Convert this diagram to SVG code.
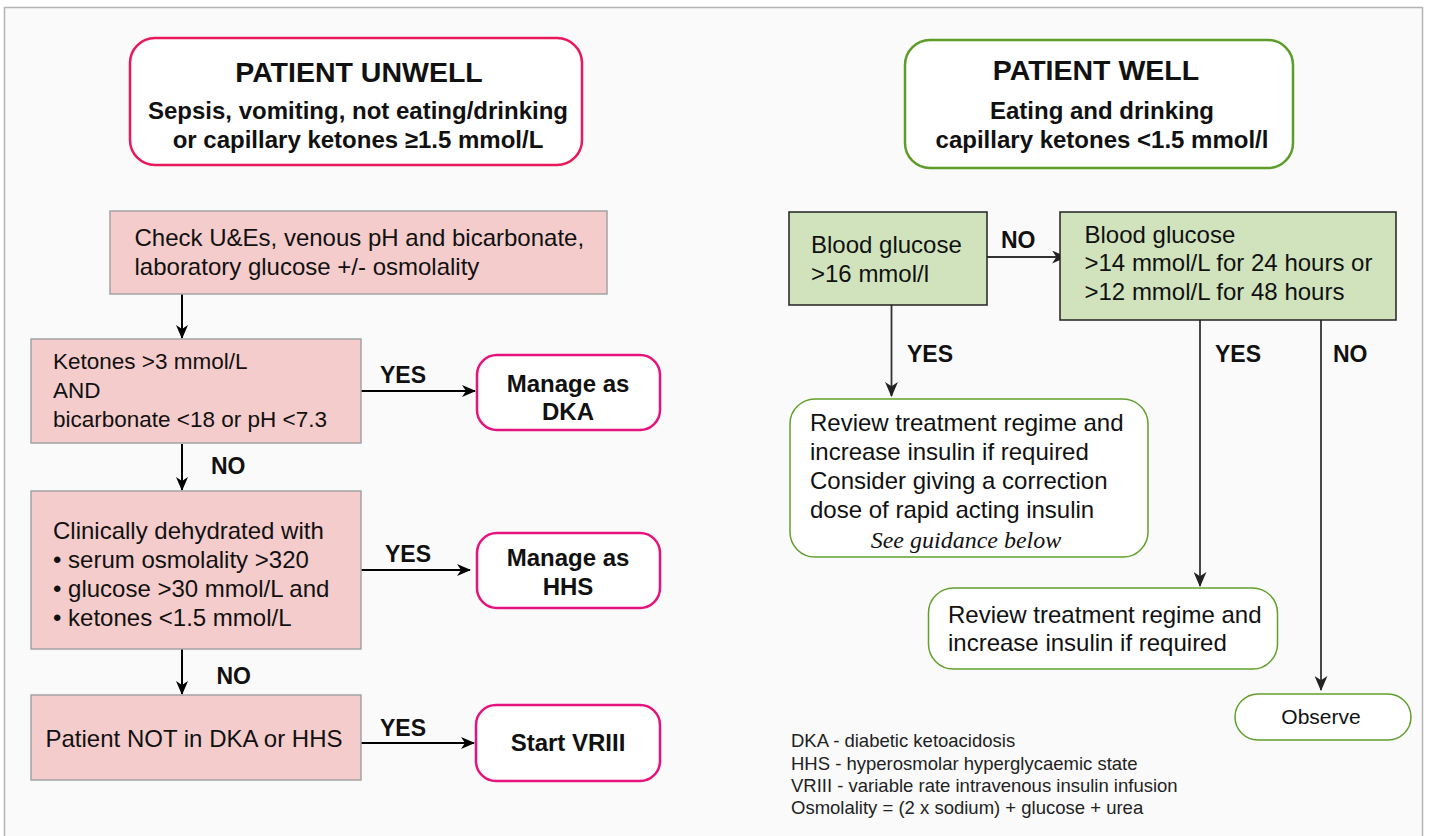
<svg xmlns="http://www.w3.org/2000/svg" width="1429" height="836" viewBox="0 0 1429 836">
<defs>
<style>
text{font-family:"Liberation Sans",Arial,sans-serif;fill:#111}
.b{font-weight:bold}
.t{font-size:28.5px;font-weight:bold;text-anchor:middle}
.s{font-size:24px;font-weight:bold;text-anchor:middle}
.n{font-size:24px}
.k{font-size:22.5px}
.lbl{font-size:23px;font-weight:bold}
.pink{fill:#f4cccc;stroke:#a3a3a3;stroke-width:1.5}
.green{fill:#d0e3bd;stroke:#222;stroke-width:1.5}
.rp{fill:#fff;stroke:#e5137e;stroke-width:2.5}
.rg{fill:#fff;stroke:#62a02c;stroke-width:1.5}
.ln{stroke:#000;stroke-width:2;fill:none}
.lr{stroke:#333;stroke-width:1.8;fill:none}
.leg{font-size:18.5px;fill:#222}
</style>
<marker id="ah" viewBox="0 0 14 12" refX="13" refY="6" markerWidth="14" markerHeight="12" markerUnits="userSpaceOnUse" orient="auto">
<path d="M0,0 L14,6 L0,12 L4,6 z" fill="#000"/>
</marker>
<marker id="ah2" viewBox="0 0 14 12" refX="13" refY="6" markerWidth="15" markerHeight="13" markerUnits="userSpaceOnUse" orient="auto">
<path d="M0,0 L14,6 L0,12 L4,6 z" fill="#222"/>
</marker>
</defs>
<rect x="0" y="0" width="1429" height="836" fill="#ffffff"/>
<rect x="4.5" y="7.5" width="1418" height="840" fill="#fafafa" stroke="#b4b4b4" stroke-width="1.5"/>

<g id="connectors">
<line class="ln" x1="182" y1="294" x2="182" y2="338" marker-end="url(#ah)"/>
<line class="ln" x1="361" y1="391" x2="475" y2="391" marker-end="url(#ah)"/>
<line class="ln" x1="182" y1="444" x2="182" y2="490" marker-end="url(#ah)"/>
<line class="ln" x1="361" y1="570" x2="470" y2="570" marker-end="url(#ah)"/>
<line class="ln" x1="182" y1="649" x2="182" y2="694" marker-end="url(#ah)"/>
<line class="ln" x1="361" y1="743" x2="474" y2="743" marker-end="url(#ah)"/>
<line class="lr" x1="987" y1="257" x2="1066" y2="257" marker-end="url(#ah2)"/>
<line class="lr" x1="891.5" y1="305" x2="891.5" y2="396" marker-end="url(#ah2)"/>
<line class="lr" x1="1200" y1="316" x2="1200" y2="586" marker-end="url(#ah2)"/>
<line class="lr" x1="1321" y1="320" x2="1321" y2="690" marker-end="url(#ah2)"/>
<text class="lbl" x="380" y="383">YES</text>
<text class="lbl" x="211" y="473.5">NO</text>
<text class="lbl" x="385" y="562">YES</text>
<text class="lbl" x="216.5" y="684">NO</text>
<text class="lbl" x="380" y="736">YES</text>
<text class="lbl" x="1001" y="248">NO</text>
<text class="lbl" x="907" y="362">YES</text>
<text class="lbl" x="1215" y="362">YES</text>
<text class="lbl" x="1333" y="362">NO</text>
</g>

<g id="unwell">
<rect x="130" y="38" width="452" height="127" rx="25" fill="#fff" stroke="#e8185a" stroke-width="2.5"/>
<text class="t" x="359" y="82">PATIENT UNWELL</text>
<text class="s" x="358" y="119">Sepsis, vomiting, not eating/drinking</text>
<text class="s" x="358" y="148">or capillary ketones ≥1.5 mmol/L</text>
</g>

<g id="check">
<rect class="pink" x="110" y="211" width="497" height="83"/>
<text class="n" x="134.5" y="246">Check U&amp;Es, venous pH and bicarbonate,</text>
<text class="n" x="134.5" y="275">laboratory glucose +/- osmolality</text>
</g>

<g id="ketones">
<rect class="pink" x="31" y="339" width="330" height="104"/>
<text class="k" x="53" y="369">Ketones &gt;3 mmol/L</text>
<text class="k" x="53" y="398">AND</text>
<text class="k" x="53" y="427">bicarbonate &lt;18 or pH &lt;7.3</text>
</g>

<g id="dka">
<rect class="rp" x="477" y="355" width="183" height="75" rx="20"/>
<text class="s" x="568" y="391.5">Manage as</text>
<text class="s" x="568" y="419.5">DKA</text>
</g>

<g id="dehydrated">
<rect class="pink" x="31" y="491" width="330" height="158"/>
<text class="n" x="53" y="539">Clinically dehydrated with</text>
<text class="n" x="53" y="568">• serum osmolality &gt;320</text>
<text class="n" x="53" y="597">• glucose &gt;30 mmol/L and</text>
<text class="n" x="53" y="626">• ketones &lt;1.5 mmol/L</text>
</g>

<g id="hhs">
<rect class="rp" x="477" y="533" width="183" height="75" rx="20"/>
<text class="s" x="568" y="566">Manage as</text>
<text class="s" x="568" y="594.5">HHS</text>
</g>

<g id="notdka">
<rect class="pink" x="31" y="695" width="330" height="85"/>
<text class="n" x="45.5" y="747">Patient NOT in DKA or HHS</text>
</g>

<g id="vriii">
<rect class="rp" x="476" y="705" width="184" height="76" rx="20"/>
<text class="s" x="568" y="751">Start VRIII</text>
</g>

<g id="well">
<rect x="905" y="40" width="388" height="128" rx="25" fill="#fff" stroke="#5e9c2a" stroke-width="2.5"/>
<text class="t" x="1096" y="80">PATIENT WELL</text>
<text class="s" x="1102" y="118.5">Eating and drinking</text>
<text class="s" x="1102" y="147.5">capillary ketones &lt;1.5 mmol/l</text>
</g>

<g id="bg16">
<rect class="green" x="789" y="212" width="198" height="93"/>
<text class="n" x="811" y="253">Blood glucose</text>
<text class="n" x="811" y="282">&gt;16 mmol/l</text>
</g>

<g id="bg14">
<rect class="green" x="1060" y="212" width="336" height="108"/>
<text class="n" x="1084.5" y="243">Blood glucose</text>
<text class="n" x="1084.5" y="271">&gt;14 mmol/L for 24 hours or</text>
<text class="n" x="1084.5" y="299.5">&gt;12 mmol/L for 48 hours</text>
</g>

<g id="review1">
<rect class="rg" x="790" y="399" width="358" height="158" rx="25"/>
<text class="n" x="810" y="431">Review treatment regime and</text>
<text class="n" x="810" y="459.5">increase insulin if required</text>
<text class="n" x="810" y="489">Consider giving a correction</text>
<text class="n" x="810" y="518">dose of rapid acting insulin</text>
<text x="966" y="548" style="font-family:'Liberation Serif','Times New Roman',serif;font-style:italic;font-size:24px;text-anchor:middle">See guidance below</text>
</g>

<g id="review2">
<rect class="rg" x="928.5" y="588" width="349" height="81" rx="25"/>
<text class="n" x="948" y="623">Review treatment regime and</text>
<text class="n" x="948" y="651">increase insulin if required</text>
</g>

<g id="observe">
<rect class="rg" x="1235" y="694" width="176" height="46" rx="23"/>
<text x="1321" y="724" style="font-size:21px;text-anchor:middle">Observe</text>
</g>

<g id="legend">
<text class="leg" x="791" y="747">DKA - diabetic ketoacidosis</text>
<text class="leg" x="791" y="769.5">HHS - hyperosmolar hyperglycaemic state</text>
<text class="leg" x="791" y="792">VRIII - variable rate intravenous insulin infusion</text>
<text class="leg" x="791" y="814">Osmolality = (2 x sodium) + glucose + urea</text>
</g>
</svg>
